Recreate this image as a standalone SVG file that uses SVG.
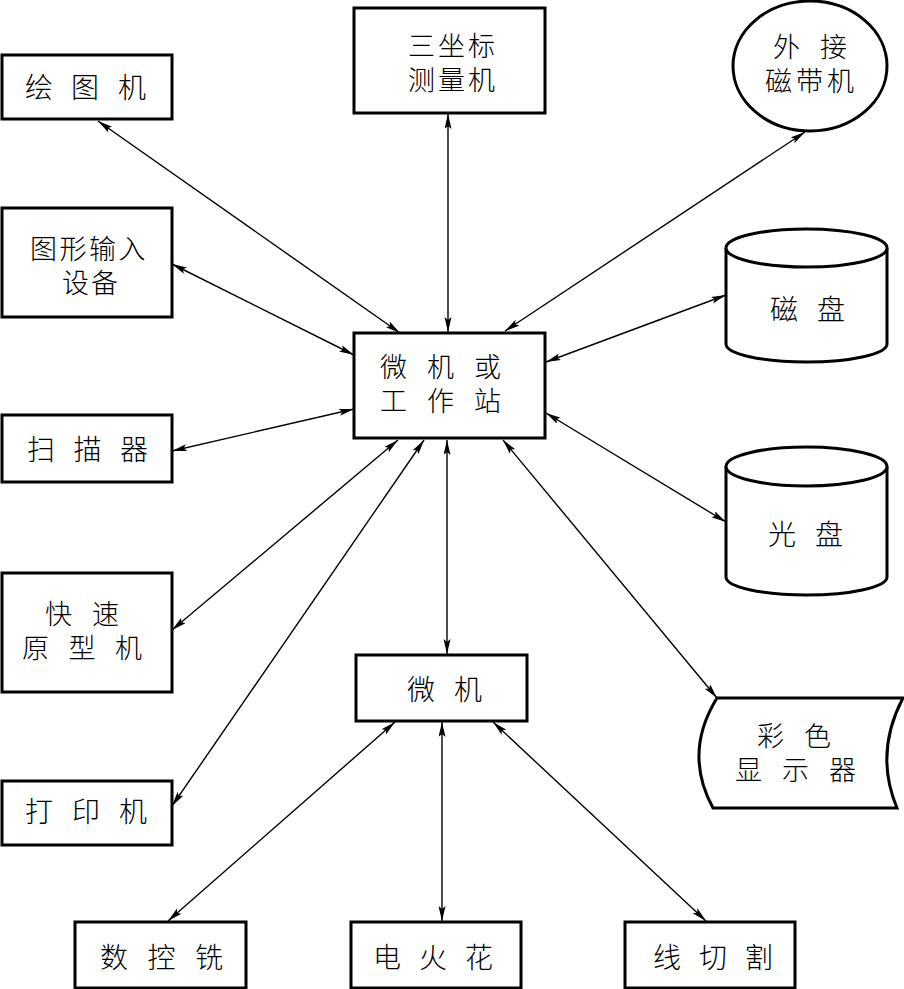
<svg xmlns="http://www.w3.org/2000/svg" width="904" height="989" viewBox="0 0 904 989">
<style>
.box{fill:#fff;stroke:#000;stroke-width:3}
.t{font-family:"Noto Sans CJK SC","Noto Sans CJK JP",sans-serif;font-size:28px;fill:#000;font-weight:300}
.t2{font-family:"Noto Sans CJK SC","Noto Sans CJK JP",sans-serif;font-size:27px;fill:#000;font-weight:300}
.c{stroke:#000;stroke-width:1.4;fill:none;marker-start:url(#a);marker-end:url(#a)}
</style>
<defs>
<marker id="a" markerUnits="userSpaceOnUse" markerWidth="16" markerHeight="8" refX="15" refY="3.5" orient="auto-start-reverse">
<path d="M0,0 L15,3.5 L0,7 L3,3.5 Z" fill="#000"/>
</marker>
</defs>
<g id="connectors">
<line class="c" x1="98" y1="121" x2="400" y2="333"/>
<line class="c" x1="448" y1="114" x2="448" y2="332"/>
<line class="c" x1="805" y1="132" x2="505" y2="331"/>
<line class="c" x1="172" y1="264" x2="354" y2="355"/>
<line class="c" x1="546" y1="362" x2="726" y2="295"/>
<line class="c" x1="172" y1="451" x2="354" y2="409"/>
<line class="c" x1="546" y1="413" x2="726" y2="522"/>
<line class="c" x1="172" y1="630" x2="398" y2="440"/>
<line class="c" x1="172" y1="806" x2="424" y2="440"/>
<line class="c" x1="503" y1="440" x2="717" y2="698"/>
<line class="c" x1="447" y1="440" x2="447" y2="654"/>
<line class="c" x1="168" y1="921" x2="395" y2="722"/>
<line class="c" x1="442" y1="722" x2="442" y2="921"/>
<line class="c" x1="493" y1="722" x2="706" y2="921"/>
</g>
<g id="plotter">
<rect class="box" x="2" y="55" width="170" height="64"/>
<text class="t" x="25 71 118" y="98">绘图机</text>
</g>
<g id="cmm">
<rect class="box" x="354" y="8" width="191" height="105"/>
<text class="t2"><tspan x="408 438 468" y="56">三坐标</tspan><tspan x="408 438 468" y="90">测量机</tspan></text>
</g>
<g id="tape">
<ellipse cx="810" cy="66" rx="77" ry="65" fill="#fff" stroke="#000" stroke-width="3"/>
<text class="t2"><tspan x="773 820" y="57">外接</tspan><tspan x="765 796 827" y="91">磁带机</tspan></text>
</g>
<g id="graphic-input">
<rect class="box" x="2" y="208" width="170" height="109"/>
<text class="t2"><tspan x="30 59.5 89 118.5" y="259">图形输入</tspan><tspan x="62 91" y="293">设备</tspan></text>
</g>
<g id="disk">
<path d="M726,248 L726,344 A80.5,18 0 0 0 887,344 L887,248" fill="#fff" stroke="#000" stroke-width="3"/>
<ellipse cx="806.5" cy="248" rx="80.5" ry="19" fill="#fff" stroke="#000" stroke-width="3"/>
<text class="t" x="770 817" y="320">磁盘</text>
</g>
<g id="workstation">
<rect class="box" x="354" y="333" width="191" height="105"/>
<text class="t2"><tspan x="380 427 474" y="377">微机或</tspan><tspan x="380 427 474" y="411">工作站</tspan></text>
</g>
<g id="scanner">
<rect class="box" x="2" y="415" width="170" height="67"/>
<text class="t" x="27 73.5 120" y="460">扫描器</text>
</g>
<g id="optical">
<path d="M726,466.5 L726,577 A80.5,18 0 0 0 887,577 L887,466.5" fill="#fff" stroke="#000" stroke-width="3"/>
<ellipse cx="806.5" cy="466.5" rx="80.5" ry="19.5" fill="#fff" stroke="#000" stroke-width="3"/>
<text class="t" x="768 815" y="545">光盘</text>
</g>
<g id="rapid-proto">
<rect class="box" x="2" y="573" width="170" height="119"/>
<text class="t2"><tspan x="45 92" y="624">快速</tspan><tspan x="22 68.5 115" y="658">原型机</tspan></text>
</g>
<g id="micro">
<rect class="box" x="356" y="655" width="171" height="66"/>
<text class="t" x="407 454" y="700">微机</text>
</g>
<g id="display">
<path d="M717,698 L903,698 Q874,753 897,808 L713,808 Q683,753 717,698 Z" fill="#fff" stroke="#000" stroke-width="3"/>
<text class="t2"><tspan x="757 804" y="746">彩色</tspan><tspan x="735 782 829" y="780">显示器</tspan></text>
</g>
<g id="printer">
<rect class="box" x="2" y="781" width="170" height="64"/>
<text class="t" x="25 72 119" y="822">打印机</text>
</g>
<g id="cnc-mill">
<rect class="box" x="75" y="922" width="171" height="66"/>
<text class="t" x="100 147.5 195" y="968">数控铣</text>
</g>
<g id="edm">
<rect class="box" x="351" y="922" width="170" height="66"/>
<text class="t" x="373 419 465" y="968">电火花</text>
</g>
<g id="wire-cut">
<rect class="box" x="625" y="922" width="170" height="66"/>
<text class="t" x="653 699 745" y="968">线切割</text>
</g>
</svg>
